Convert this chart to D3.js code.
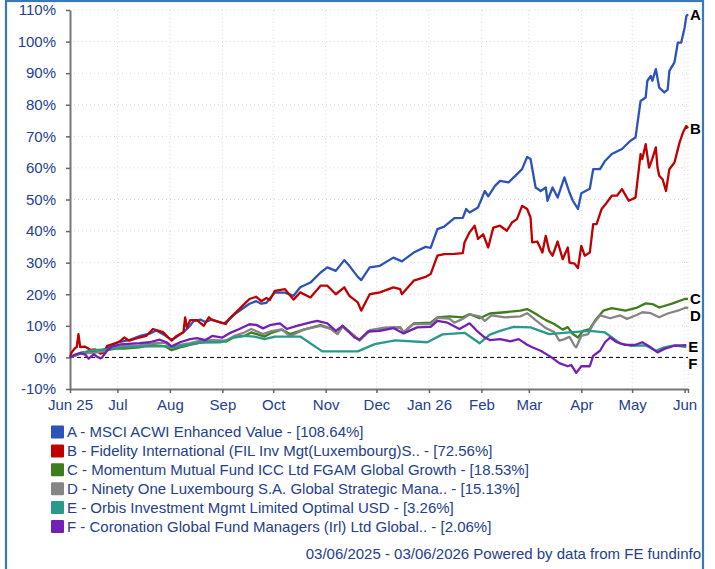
<!DOCTYPE html>
<html>
<head>
<meta charset="utf-8">
<script src="https://cdn.jsdelivr.net/npm/d3@7"></script>
<style>
  body { margin: 0; background: #fff; }
  svg { display: block; font-family: "Liberation Sans", Arial, sans-serif; }
  .grid line { stroke: #d8d8d8; stroke-dasharray: 1,3; }
</style>
</head>
<body>
<div id="chart"></div>
<script>
// period
const startDate = "2025-06-03";
const endDate = "2026-06-03";

// x ticks (first one is the start date) and their labels
const tickDates = ["2025-06-03", "2025-07-01", "2025-08-01", "2025-09-01", "2025-10-01", "2025-11-01",
  "2025-12-01", "2026-01-01", "2026-02-01", "2026-03-01", "2026-04-01", "2026-05-01", "2026-06-01"];
const tickLabels = ["Jun 25", "Jul", "Aug", "Sep", "Oct", "Nov", "Dec", "Jan 26", "Feb", "Mar", "Apr", "May", "Jun"];
const yTicks = [-10, 0, 10, 20, 30, 40, 50, 60, 70, 80, 90, 100, 110];

const codes = ["A", "B", "C", "D", "E", "F"];
const names = [
  "MSCI ACWI Enhanced Value",
  "Fidelity International (FIL Inv Mgt(Luxembourg)S..",
  "Momentum Mutual Fund ICC Ltd FGAM Global Growth",
  "Ninety One Luxembourg S.A. Global Strategic Mana..",
  "Orbis Investment Mgmt Limited Optimal USD",
  "Coronation Global Fund Managers (Irl) Ltd Global.."
];
const totals = ["108.64", "72.56", "18.53", "15.13", "3.26", "2.06"];
const colors = ["#2b53b9", "#c00000", "#3f7d1c", "#858585", "#28998b", "#7420b4"];

// [days since start, % growth]
const seriesA = [[0,0],[7,1.5],[18,2.0],[24,3.5],[28,4.8],[35,5.5],[42,6.9],[47,7.5],[51,8.5],[56,7.0],
  [60,5.6],[63,6.5],[67,8.0],[70,9.5],[73,11.5],[77,12.0],[80,11.2],[84,12.0],[89,11.0],[91,10.8],
  [94,12.0],[98,14.0],[102,15.5],[106,17.0],[110,17.8],[113,17.0],[116,17.3],[121,20.6],[127,20.5],
  [132,19.5],[136,22.2],[142,23.7],[148,26.9],[152,28.5],[157,27.4],[162,30.8],[165,29.0],[170,25.5],
  [172,24.5],[177,28.5],[183,29.0],[191,31.6],[196,30.4],[203,33.2],[210,35.0],[213,34.7],[217,40.6],
  [221,41.4],[227,44.1],[232,44.2],[234,47.0],[236,45.9],[241,47.5],[245,52.7],[247,51.0],[251,54.3],
  [254,55.9],[259,55.4],[263,57.5],[267,59.6],[270,63.5],[272,62.8],[275,53.8],[278,52.7],[281,53.8],
  [282,49.6],[285,53.8],[288,50.6],[292,57.0],[295,52.2],[297,49.6],[300,47.0],[302,52.0],[307,53.4],
  [309,59.6],[313,59.6],[316,62.2],[320,64.4],[326,66.0],[331,68.6],[334,69.6],[337,81.2],[340,82.3],
  [341,87.6],[343,89.1],[344,87.6],[346,91.3],[348,85.4],[351,83.9],[353,84.8],[354,90.7],[357,93.4],
  [359,99.7],[361,99.7],[363,104.4],[364,108.0],[365,108.64]];

const seriesB = [[0,0],[1,1.6],[3,3.0],[4,3.3],[5,7.4],[6,3.3],[9,3.4],[12,2.4],[15,2.5],[18,1.2],
  [20,1.5],[22,3.7],[28,4.7],[30,5.3],[32,6.3],[35,5.3],[41,6.3],[45,6.8],[49,9.0],[52,8.5],[55,8.0],
  [58,6.3],[60,5.3],[63,6.8],[67,8.0],[68,12.7],[69,9.5],[71,11.8],[75,11.8],[79,10.0],[82,12.7],
  [84,11.8],[89,11.1],[92,10.6],[94,12.2],[100,15.3],[102,16.4],[106,18.5],[110,19.2],[113,17.8],
  [116,18.8],[118,18.2],[121,21.1],[127,21.6],[132,18.3],[136,20.6],[142,19.0],[148,22.7],[152,22.7],
  [157,20.0],[162,22.2],[165,19.5],[170,17.4],[172,14.8],[177,20.0],[183,20.6],[191,22.2],[195,21.6],
  [196,20.0],[203,24.3],[210,25.5],[213,26.4],[217,32.2],[221,32.7],[227,32.8],[232,33.0],[233,36.4],
  [236,39.6],[239,41.7],[241,37.5],[244,39.0],[247,34.8],[250,41.1],[254,41.7],[258,40.1],[261,42.7],
  [264,43.8],[267,48.0],[270,47.0],[272,44.3],[273,36.4],[276,36.7],[279,33.2],[281,38.5],[283,33.8],
  [285,32.2],[288,36.7],[291,31.1],[294,34.8],[295,30.0],[298,29.7],[300,28.3],[302,35.3],[304,32.2],
  [307,33.2],[309,42.2],[311,42.2],[314,47.0],[317,49.0],[320,51.2],[323,51.2],[326,53.3],[330,49.6],
  [334,50.6],[337,64.4],[338,62.8],[340,67.5],[342,60.1],[344,63.0],[346,66.5],[347,60.1],[348,57.5],
  [350,56.4],[352,52.7],[354,59.6],[357,61.7],[360,68.0],[362,71.2],[364,73.3],[365,72.56]];

const seriesC = [[0,0],[6,1.4],[15,1.8],[21,2.2],[27,2.8],[32,2.8],[41,3.2],[47,4.0],[56,3.6],[60,2.3],
  [65,3.2],[71,4.0],[77,4.7],[84,5.3],[92,5.0],[97,6.5],[103,6.8],[107,7.9],[115,6.6],[119,7.8],
  [125,8.8],[130,7.4],[138,8.8],[148,10.2],[154,9.1],[158,7.5],[161,10.0],[165,8.2],[171,5.5],[177,8.4],
  [186,9.3],[195,9.5],[197,7.9],[203,10.8],[213,11.0],[217,12.7],[224,13.0],[232,12.7],[236,13.7],
  [242,12.4],[248,13.9],[257,14.3],[266,14.8],[270,15.3],[275,13.8],[281,11.8],[286,10.6],[291,8.8],
  [294,9.6],[297,7.4],[300,6.3],[303,8.4],[307,9.0],[310,11.6],[315,14.8],[320,15.6],[328,14.8],
  [335,15.8],[340,17.1],[344,16.9],[348,15.8],[356,17.1],[363,18.5],[365,18.53]];

const seriesD = [[0,0],[6,1.2],[15,1.5],[21,2.0],[27,3.3],[32,3.6],[41,3.8],[50,4.5],[56,4.7],[60,3.2],
  [65,4.0],[71,4.5],[77,5.3],[84,5.5],[92,5.3],[97,6.8],[103,7.9],[107,9.0],[114,7.4],[119,8.3],
  [125,8.9],[130,6.7],[138,8.8],[148,10.0],[154,9.0],[158,7.4],[161,9.8],[165,8.0],[171,5.3],[177,8.6],
  [186,9.4],[195,9.6],[197,8.0],[203,10.6],[213,10.5],[217,12.5],[224,12.3],[227,11.0],[232,12.2],
  [236,13.6],[242,13.0],[245,11.6],[249,13.3],[257,12.7],[266,13.0],[270,14.0],[275,11.8],[281,9.3],
  [286,8.0],[289,5.3],[292,5.8],[295,6.5],[298,3.7],[299,3.2],[302,6.8],[306,7.4],[309,10.6],[313,13.3],
  [319,12.4],[325,13.3],[329,12.2],[335,13.5],[338,14.3],[343,14.0],[348,12.7],[353,13.9],[360,15.0],
  [364,15.8],[365,15.5]];

const seriesE = [[0,0],[6,1.2],[12,2.2],[21,2.5],[30,3.1],[41,3.4],[56,3.6],[60,3.1],[77,4.7],[89,4.8],
  [97,6.3],[103,6.8],[109,6.6],[115,5.8],[121,6.6],[136,6.6],[149,1.9],[170,1.9],[180,4.2],[192,5.4],
  [211,4.8],[220,7.3],[233,7.8],[242,4.5],[248,7.2],[254,8.4],[262,9.7],[272,9.5],[283,7.4],[295,7.9],
  [307,8.4],[316,7.9],[325,4.4],[331,3.7],[340,3.8],[346,2.1],[351,3.2],[357,3.8],[364,3.3]];

const seriesF = [[0,0],[3,0.9],[6,1.4],[9,0.9],[11,-0.4],[14,1.0],[16,0.2],[18,-0.3],[19,0.0],[22,2.2],
  [25,3.5],[30,4.1],[41,4.5],[47,4.8],[53,5.6],[57,4.8],[60,3.5],[65,4.8],[71,5.8],[75,6.1],[80,5.5],
  [84,6.8],[90,6.3],[94,7.6],[100,9.0],[106,10.5],[110,10.3],[114,9.2],[118,10.2],[124,10.8],[128,9.0],
  [134,10.0],[142,11.1],[146,11.6],[152,10.8],[157,8.4],[161,10.0],[168,6.3],[171,5.6],[176,8.2],
  [183,8.4],[191,9.3],[197,7.6],[205,9.5],[213,9.7],[217,11.6],[223,11.0],[230,9.0],[236,10.8],[240,8.6],
  [245,6.3],[248,5.5],[254,5.8],[260,5.1],[265,5.8],[270,4.0],[273,3.2],[278,2.1],[282,0.8],[285,-0.2],
  [289,-1.8],[294,-2.8],[296,-2.4],[299,-4.9],[302,-2.8],[307,-2.8],[309,0.5],[313,2.1],[316,4.8],
  [319,6.3],[323,4.8],[328,4.0],[334,4.0],[338,4.8],[343,3.2],[347,1.6],[351,2.7],[357,3.7],[364,3.9]];

const allSeries = [seriesA, seriesB, seriesC, seriesD, seriesE, seriesF];

const W = 715, H = 569;
const plot = { left: 70, right: 688, top: 10, bottom: 389 };
const textColor = "#24408e";
const fontSize = "15px";

const parse = d3.timeParse("%Y-%m-%d");
const t0 = parse(startDate);

const svg = d3.select("#chart").append("svg")
  .attr("width", W).attr("height", H);

svg.append("rect").attr("width", W).attr("height", H).attr("fill", "#fff");

// frame
svg.append("rect")
  .attr("x", 6).attr("y", 1)
  .attr("width", 697).attr("height", 620)
  .attr("fill", "none")
  .attr("stroke", "#3a78b8")
  .attr("stroke-width", 2.2);

const x = d3.scaleTime()
  .domain([t0, parse(endDate)])
  .range([plot.left, plot.right]);

const y = d3.scaleLinear()
  .domain([-10, 110])
  .range([plot.bottom, plot.top]);

const xTickVals = tickDates.map(parse).concat([parse(endDate)]);

// grid
const grid = svg.append("g").attr("class", "grid");
grid.selectAll(".h").data(yTicks.filter((v) => v !== 0 && v !== -10)).enter()
  .append("line")
  .attr("x1", plot.left).attr("x2", plot.right)
  .attr("y1", (d) => y(d)).attr("y2", (d) => y(d));
grid.selectAll(".v").data(xTickVals.slice(1)).enter()
  .append("line")
  .attr("x1", (d) => x(d)).attr("x2", (d) => x(d))
  .attr("y1", plot.top).attr("y2", plot.bottom);

// zero line
svg.append("line")
  .attr("x1", plot.left).attr("x2", plot.right)
  .attr("y1", y(0)).attr("y2", y(0))
  .attr("stroke", "#000")
  .attr("stroke-dasharray", "4,3");

// axes
const yAxis = svg.append("g")
  .attr("transform", `translate(${plot.left},0)`)
  .call(d3.axisLeft(y).tickValues(yTicks).tickFormat((d) => d + "%").tickSize(4).tickSizeOuter(0).tickPadding(10));

const xAxis = svg.append("g")
  .attr("transform", `translate(0,${plot.bottom})`)
  .call(d3.axisBottom(x).tickValues(xTickVals)
    .tickFormat((d, i) => tickLabels[i] || "")
    .tickSize(4).tickSizeOuter(0).tickPadding(6));

[yAxis, xAxis].forEach((g) => {
  g.select(".domain").attr("stroke", "#777").attr("stroke-width", 2);
  g.selectAll(".tick line").attr("stroke", "#666").attr("stroke-width", 1.5);
  g.selectAll("text")
    .attr("fill", textColor)
    .style("font-size", fontSize)
    .style("font-family", "'Liberation Sans', Arial, sans-serif");
});

// lines
const line = d3.line()
  .x((d) => x(d3.timeDay.offset(t0, d[0])))
  .y((d) => y(d[1]));

svg.selectAll(".series")
  .data(allSeries)
  .enter()
  .append("path")
  .attr("class", "series")
  .attr("d", (d) => line(d))
  .attr("fill", "none")
  .attr("stroke", (d, i) => colors[i])
  .attr("stroke-width", 2.3)
  .attr("stroke-linejoin", "round");

// end labels, kept in A..F order top to bottom and pushed apart
const ends = allSeries.map((s, i) => {
  const last = s[s.length - 1];
  return { code: codes[i], x: x(d3.timeDay.offset(t0, last[0])), y: y(last[1]) };
});
for (let i = 1; i < ends.length; i++) {
  ends[i].y = Math.max(ends[i].y, ends[i - 1].y + 16.5);
}
svg.selectAll(".endlabel")
  .data(ends)
  .enter()
  .append("text")
  .attr("x", (d) => d.x + 2)
  .attr("y", (d) => d.y)
  .attr("dy", "0.36em")
  .style("font-size", fontSize)
  .style("font-weight", "bold")
  .attr("fill", "#000")
  .text((d) => d.code);

// legend
const legend = svg.append("g");
codes.forEach((c, i) => {
  const cy = 432 + i * 18.9;
  legend.append("rect")
    .attr("x", 51).attr("y", cy - 6.5)
    .attr("width", 13).attr("height", 13)
    .attr("rx", 1)
    .attr("fill", colors[i]);
  legend.append("text")
    .attr("x", 67).attr("y", cy)
    .attr("dy", "0.36em")
    .attr("fill", textColor)
    .style("font-size", fontSize)
    .text(`${c} - ${names[i]} - [${totals[i]}%]`);
});

svg.append("text")
  .attr("x", 701).attr("y", 559)
  .attr("text-anchor", "end")
  .attr("fill", textColor)
  .style("font-size", fontSize)
  .text(`${d3.timeFormat("%d/%m/%Y")(t0)} - ${d3.timeFormat("%d/%m/%Y")(parse(endDate))} Powered by data from FE fundinfo`);
</script>
</body>
</html>
